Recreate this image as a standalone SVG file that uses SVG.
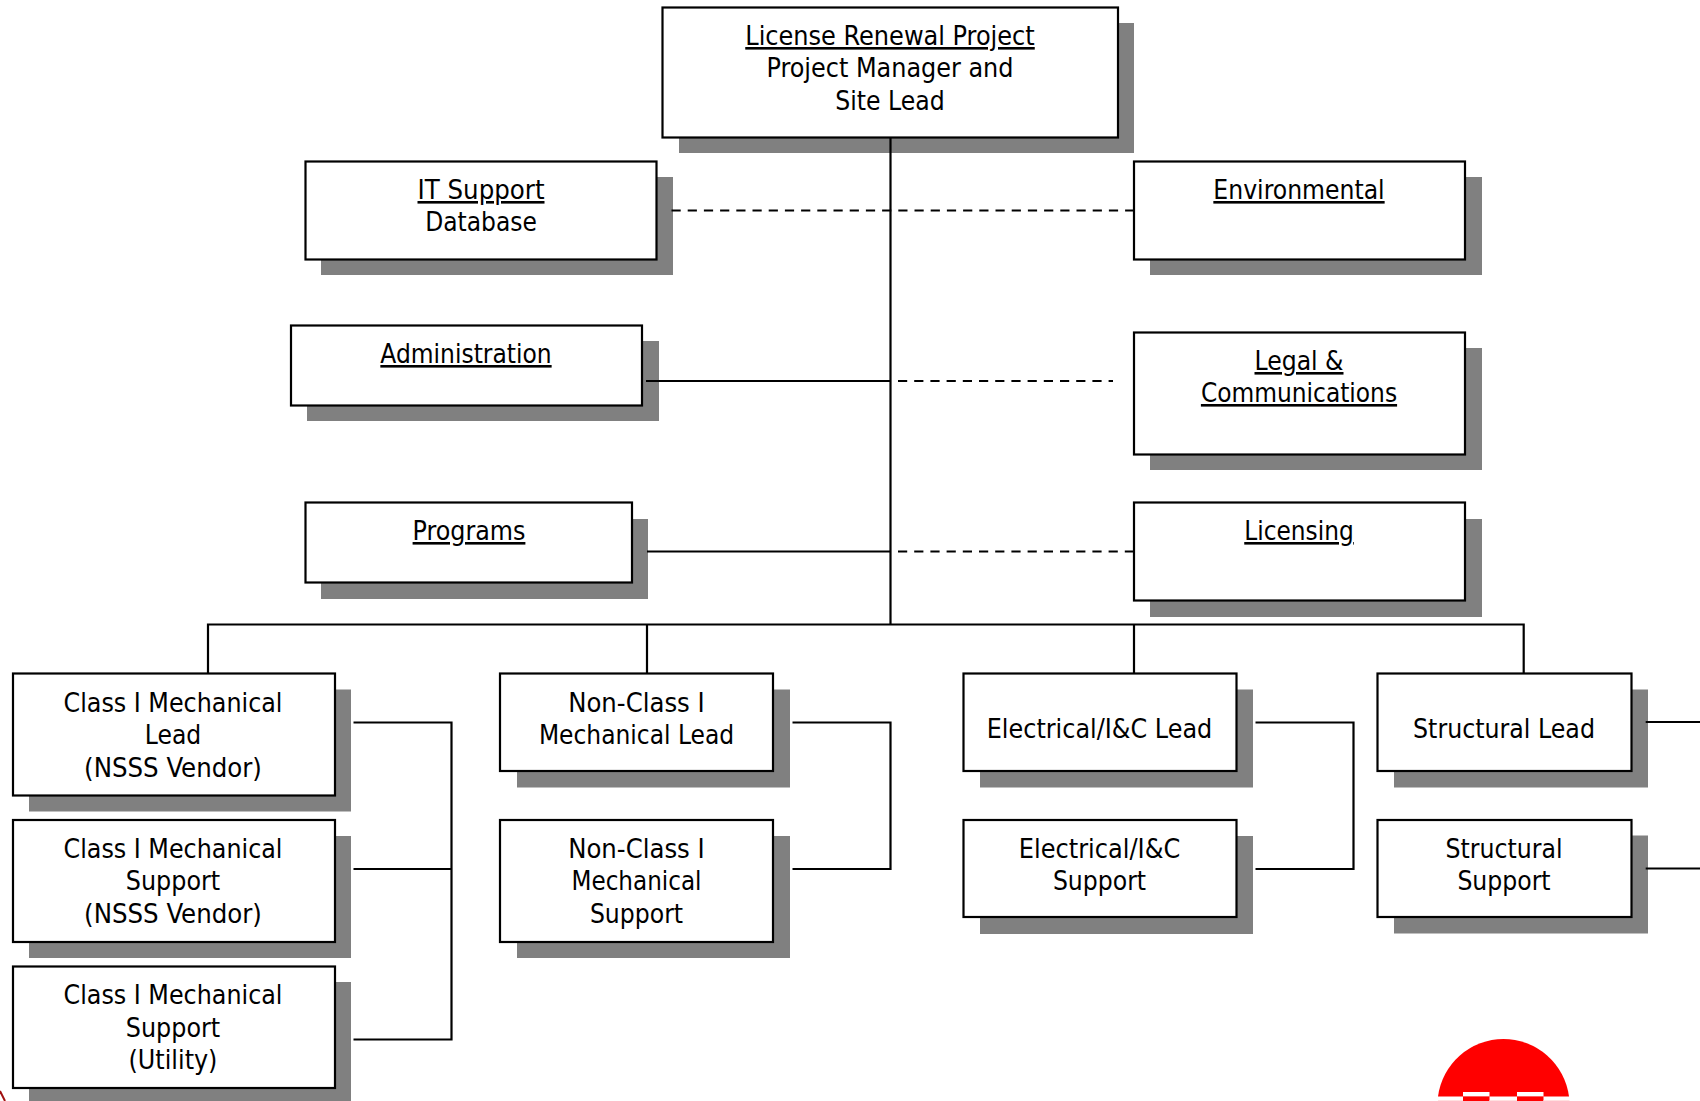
<svg xmlns="http://www.w3.org/2000/svg" width="1700" height="1101" viewBox="0 0 1700 1101">
<style>
.s{fill:#808080;stroke:none}
.b{fill:#fff;stroke:#000;stroke-width:2.2}
text{font-family:"DejaVu Sans","Liberation Sans",sans-serif;font-stretch:condensed;font-size:26px;fill:#000;text-anchor:middle}
.u{text-decoration:underline}
.c{fill:none;stroke:#000;stroke-width:2.2}
.d{fill:none;stroke:#000;stroke-width:2.2;stroke-dasharray:9.200 7}
</style>
<rect width="1700" height="1101" fill="#fff"/>
<g id="n-root"><rect class="s" x="679" y="23" width="455" height="130"/><rect class="b" x="662.500" y="7.500" width="455.500" height="130"/>
<text x="890" y="45" class="u" textLength="289.500" lengthAdjust="spacingAndGlyphs">License Renewal Project</text><text x="890" y="77" textLength="247" lengthAdjust="spacingAndGlyphs">Project Manager and</text><text x="890" y="110" textLength="109.500" lengthAdjust="spacingAndGlyphs">Site Lead</text></g>
<g id="n-it"><rect class="s" x="321" y="177" width="352" height="98"/><rect class="b" x="305.500" y="161.500" width="351" height="98"/>
<text x="481" y="199" class="u" textLength="127" lengthAdjust="spacingAndGlyphs">IT Support</text><text x="481" y="231" textLength="111.700" lengthAdjust="spacingAndGlyphs">Database</text></g>
<g id="n-env"><rect class="s" x="1150" y="177" width="332" height="98"/><rect class="b" x="1134" y="161.500" width="331" height="98"/>
<text x="1299" y="199" class="u" textLength="171.300" lengthAdjust="spacingAndGlyphs">Environmental</text></g>
<g id="n-admin"><rect class="s" x="307" y="341" width="352" height="80"/><rect class="b" x="291" y="325.500" width="351" height="80"/>
<text x="466" y="363" class="u" textLength="171.300" lengthAdjust="spacingAndGlyphs">Administration</text></g>
<g id="n-legal"><rect class="s" x="1150" y="348" width="332" height="122"/><rect class="b" x="1134" y="332.500" width="331" height="122"/>
<text x="1299" y="370" class="u" textLength="89" lengthAdjust="spacingAndGlyphs">Legal &amp;</text><text x="1299" y="402" class="u" textLength="196.200" lengthAdjust="spacingAndGlyphs">Communications</text></g>
<g id="n-programs"><rect class="s" x="321" y="519" width="327" height="80"/><rect class="b" x="305.500" y="502.500" width="326.500" height="80"/>
<text x="469" y="540" class="u" textLength="112.800" lengthAdjust="spacingAndGlyphs">Programs</text></g>
<g id="n-licensing"><rect class="s" x="1150" y="519" width="332" height="98"/><rect class="b" x="1134" y="502.500" width="331" height="98"/>
<text x="1299" y="540" class="u" textLength="109.500" lengthAdjust="spacingAndGlyphs">Licensing</text></g>
<g id="n-c1lead"><rect class="s" x="29" y="689.500" width="322" height="122"/><rect class="b" x="13" y="673.500" width="322" height="122"/>
<text x="173" y="712" textLength="219" lengthAdjust="spacingAndGlyphs">Class I Mechanical</text><text x="173" y="744" textLength="56.400" lengthAdjust="spacingAndGlyphs">Lead</text><text x="173" y="776.500" textLength="177.800" lengthAdjust="spacingAndGlyphs">(NSSS Vendor)</text></g>
<g id="n-c1sup"><rect class="s" x="29" y="836" width="322" height="122"/><rect class="b" x="13" y="820" width="322" height="122"/>
<text x="173" y="858" textLength="219" lengthAdjust="spacingAndGlyphs">Class I Mechanical</text><text x="173" y="890" textLength="94.300" lengthAdjust="spacingAndGlyphs">Support</text><text x="173" y="923" textLength="177.800" lengthAdjust="spacingAndGlyphs">(NSSS Vendor)</text></g>
<g id="n-c1util"><rect class="s" x="29" y="982" width="322" height="119"/><rect class="b" x="13" y="966.500" width="322" height="121.500"/>
<text x="173" y="1004" textLength="219" lengthAdjust="spacingAndGlyphs">Class I Mechanical</text><text x="173" y="1037" textLength="94.300" lengthAdjust="spacingAndGlyphs">Support</text><text x="173" y="1069" textLength="88.900" lengthAdjust="spacingAndGlyphs">(Utility)</text></g>
<g id="n-nclead"><rect class="s" x="517" y="689.500" width="273" height="98"/><rect class="b" x="500" y="673.500" width="273" height="97.500"/>
<text x="636.500" y="712" textLength="136.600" lengthAdjust="spacingAndGlyphs">Non-Class I</text><text x="636.500" y="744" textLength="195.200" lengthAdjust="spacingAndGlyphs">Mechanical Lead</text></g>
<g id="n-ncsup"><rect class="s" x="517" y="836" width="273" height="122"/><rect class="b" x="500" y="820" width="273" height="122"/>
<text x="636.500" y="858" textLength="136.600" lengthAdjust="spacingAndGlyphs">Non-Class I</text><text x="636.500" y="890" textLength="130" lengthAdjust="spacingAndGlyphs">Mechanical</text><text x="636.500" y="923" textLength="93.200" lengthAdjust="spacingAndGlyphs">Support</text></g>
<g id="n-ellead"><rect class="s" x="980" y="689.500" width="273" height="98"/><rect class="b" x="963.500" y="673.500" width="273" height="97.500"/>
<text x="1099.500" y="737.500" textLength="225.500" lengthAdjust="spacingAndGlyphs">Electrical/I&amp;C Lead</text></g>
<g id="n-elsup"><rect class="s" x="980" y="836" width="273" height="98"/><rect class="b" x="963.500" y="820" width="273" height="97"/>
<text x="1099.500" y="858" textLength="161.500" lengthAdjust="spacingAndGlyphs">Electrical/I&amp;C</text><text x="1099.500" y="890" textLength="93.200" lengthAdjust="spacingAndGlyphs">Support</text></g>
<g id="n-stlead"><rect class="s" x="1394" y="689.500" width="254" height="98"/><rect class="b" x="1377.500" y="673.500" width="254" height="97.500"/>
<text x="1504" y="737.500" textLength="182" lengthAdjust="spacingAndGlyphs">Structural Lead</text></g>
<g id="n-stsup"><rect class="s" x="1394" y="835.500" width="254" height="98"/><rect class="b" x="1377.500" y="820" width="254" height="97"/>
<text x="1504" y="858" textLength="117" lengthAdjust="spacingAndGlyphs">Structural</text><text x="1504" y="890" textLength="93.200" lengthAdjust="spacingAndGlyphs">Support</text></g>
<g id="connectors">
<path class="c" d="M890.500 137V624.500"/>
<path class="d" d="M671.500 210.500H1134"/>
<path class="c" d="M646 381H890.500"/>
<path class="d" d="M898 381H1113"/>
<path class="c" d="M647 551.500H890.500"/>
<path class="d" d="M898 551.500H1134"/>
<path class="c" d="M208 673V624.500H1523.700V673M647 624.500V673M1134 624.500V673"/>
<path class="c" d="M353.500 722.500H451.500V1039.500H353.500M353.500 869H451.500"/>
<path class="c" d="M792.500 722.500H890.500V869H792.500"/>
<path class="c" d="M1255.500 722.500H1353.500V869H1255.500"/>
<path class="c" d="M1645.700 722H1700M1645.700 868.500H1700"/>
</g>
<g id="logo">
<path fill="#f00" d="M1438 1096.500A66.050 66.050 0 0 1 1569 1096.500Z"/>
<rect x="1463" y="1092" width="26.500" height="4.500" fill="#fff"/>
<rect x="1517" y="1092" width="26.500" height="4.500" fill="#fff"/>
<rect x="1463" y="1096.500" width="26.500" height="4.500" fill="#f00"/>
<rect x="1517" y="1096.500" width="26.500" height="4.500" fill="#f00"/>
<path fill="#ffe0e0" d="M1438 1100h25v1h-25zM1489.500 1100h27.500v1h-27.500zM1543.500 1100h26v1h-26z"/>
</g>
<path d="M0 1091L5 1101" fill="none" stroke="#a01010" stroke-width="2"/>
</svg>
